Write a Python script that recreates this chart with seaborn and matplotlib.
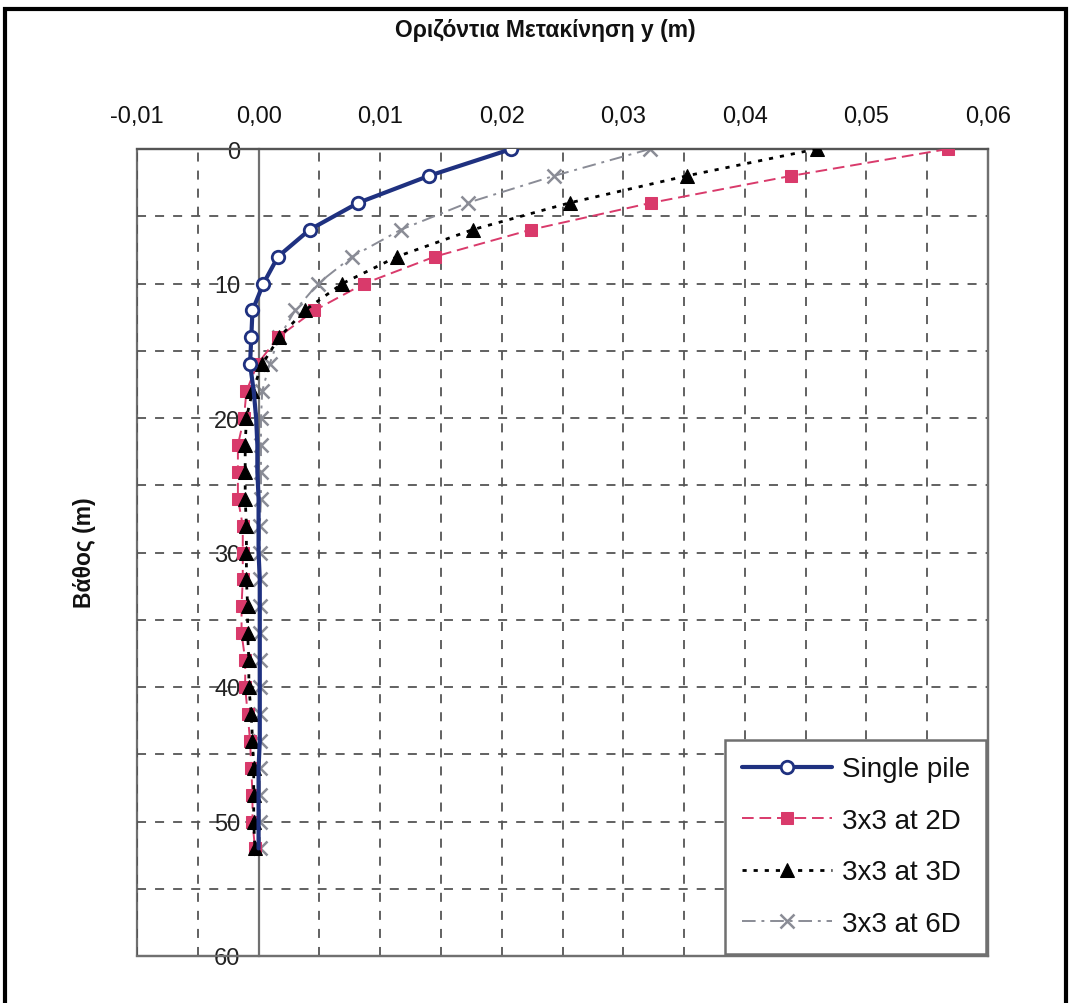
import matplotlib
matplotlib.use("Agg")
import matplotlib.pyplot as plt
import matplotlib.ticker as mticker
from matplotlib.patches import Rectangle
import seaborn as sns
import pandas as pd

# ---------------- data ----------------
depth = [0, 2, 4, 6, 8, 10, 12, 14, 16, 18, 20, 22, 24, 26, 28, 30, 32, 34, 36, 38,
         40, 42, 44, 46, 48, 50, 52]

single_pile = [0.0208, 0.0140, 0.0082, 0.0042, 0.0016, 0.0004, -0.0005, -0.0006, -0.0007,
               -0.0004, -0.0002, -0.0001, -0.0001, 0.0000, 0.0000, 0.0000, 0.0001, 0.0001,
               0.0001, 0.0001, 0.0001, 0.0001, 0.0001, 0.0000, 0.0000, 0.0000, 0.0000]

grp_2d = [0.0567, 0.0438, 0.0323, 0.0224, 0.0145, 0.0087, 0.0046, 0.0016, -0.0001,
          -0.0010, -0.0012, -0.0017, -0.0017, -0.0017, -0.0013, -0.0013, -0.0013, -0.0014,
          -0.0014, -0.0011, -0.0011, -0.0009, -0.0007, -0.0006, -0.0005, -0.0005, -0.0003]

grp_3d = [0.0459, 0.0352, 0.0256, 0.0176, 0.0114, 0.0069, 0.0038, 0.0017, 0.0003,
          -0.0005, -0.0010, -0.0011, -0.0011, -0.0011, -0.0010, -0.0010, -0.0010, -0.0009,
          -0.0009, -0.0008, -0.0008, -0.0006, -0.0005, -0.0004, -0.0004, -0.0004, -0.0003]

grp_6d = [0.0322, 0.0243, 0.0172, 0.0117, 0.0077, 0.0049, 0.0030, 0.0017, 0.0009,
          0.0003, 0.0002, 0.0002, 0.0002, 0.0002, 0.0001, 0.0001, 0.0001, 0.0001,
          0.0001, 0.0001, 0.0001, 0.0001, 0.0001, 0.0001, 0.0001, 0.0001, 0.0001]

series_names = ["Single pile", "3x3 at 2D", "3x3 at 3D", "3x3 at 6D"]
x_tick_values = [-0.01, 0.00, 0.01, 0.02, 0.03, 0.04, 0.05, 0.06]
y_tick_values = [0, 10, 20, 30, 40, 50, 60]

title_text = "Οριζόντια Μετακίνηση y (m)"
ylabel_text = "Βάθος (m)"

# ---------------- style ----------------
sns.set_theme(style="white")
plt.rcParams["font.family"] = ["Liberation Sans", "DejaVu Sans"]

fig = plt.figure(figsize=(10.72, 10.04), dpi=100)
ax = fig.add_axes([137 / 1072, 1 - 957 / 1004, (988 - 137) / 1072, (957 - 150) / 1004])

navy = "#1f3180"
pink = "#d93a6b"
grey6 = "#8a8c96"

styles = [
    dict(color=navy, linestyle="-", linewidth=3.0, marker="o", markersize=9,
         markerfacecolor="white", markeredgecolor=navy, markeredgewidth=2.0,
         markevery=list(range(9)), zorder=5),
    dict(color=pink, linestyle=(0, (6, 3)), linewidth=1.4, marker="s", markersize=9,
         markerfacecolor=pink, markeredgecolor=pink, zorder=3),
    dict(color="black", linestyle=(0, (1.5, 2.5)), linewidth=2.0, marker="^", markersize=10,
         markerfacecolor="black", markeredgecolor="black", zorder=4),
    dict(color=grey6, linestyle=(0, (7, 3, 1.5, 3)), linewidth=1.4, marker="x", markersize=10,
         markeredgewidth=1.8, markeredgecolor=grey6, zorder=2),
]

for name, vals, st in zip(series_names, [single_pile, grp_2d, grp_3d, grp_6d], styles):
    df = pd.DataFrame({"y": vals, "depth": depth})
    sns.lineplot(data=df, x="y", y="depth", ax=ax, sort=False, estimator=None,
                 label=name, **st)

# ---------------- axes ----------------
ax.set_xlim(-0.01, 0.06)
ax.set_ylim(60, 0)
ax.set_xlabel("")
ax.set_ylabel("")

ax.xaxis.tick_top()
ax.set_xticks(x_tick_values)
ax.xaxis.set_minor_locator(mticker.MultipleLocator(0.005))
ax.xaxis.set_major_formatter(mticker.FuncFormatter(lambda v, p: f"{v:.2f}".replace(".", ",")))
ax.tick_params(axis="x", which="both", length=0, pad=16, labelsize=17, colors="#111111")

ax.set_yticks(y_tick_values)
ax.yaxis.set_minor_locator(mticker.MultipleLocator(5))
ax.tick_params(axis="y", which="both", length=0, pad=13, labelsize=17, colors="#222222")

ax.grid(True, which="both", color="#555555", linestyle=(0, (5, 5)), linewidth=1.3)

# frame
for s in ["top", "right", "bottom"]:
    ax.spines[s].set_visible(True)
    ax.spines[s].set_color("#707070")
    ax.spines[s].set_linewidth(1.6)
ax.spines["top"].set_color("#555555")
ax.spines["left"].set_position(("data", 0))
ax.spines["left"].set_color("#707070")
ax.spines["left"].set_linewidth(1.6)
ax.patch.set_edgecolor("#707070")
ax.patch.set_linewidth(1.6)

# legend
leg = ax.legend(loc="lower right", bbox_to_anchor=(0.998, 0.003), fontsize=20,
                frameon=True, fancybox=False, shadow=False, framealpha=1,
                edgecolor="#707070", handlelength=3.25, handletextpad=0.33,
                labelspacing=0.92, borderpad=0.6, borderaxespad=0)
leg.get_frame().set_linewidth(1.8)
leg.set_zorder(10)
for t in leg.get_texts():
    t.set_color("#111111")

# titles
fig.text(545 / 1072, 1 - 30 / 1004, title_text, ha="center", va="center",
         fontsize=16.5, fontweight="bold", color="#111111")
fig.text(84 / 1072, 1 - 553 / 1004, ylabel_text, ha="center", va="center",
         rotation=90, fontsize=16.5, fontweight="bold", color="#111111")

# outer border
fig.patches.append(Rectangle((5 / 1072, -0.05), (1066 - 5) / 1072, 1.05 - 10 / 1004,
                             transform=fig.transFigure, fill=False, edgecolor="black",
                             linewidth=3, zorder=10))

fig.savefig("out.png", dpi=100, facecolor="white")
